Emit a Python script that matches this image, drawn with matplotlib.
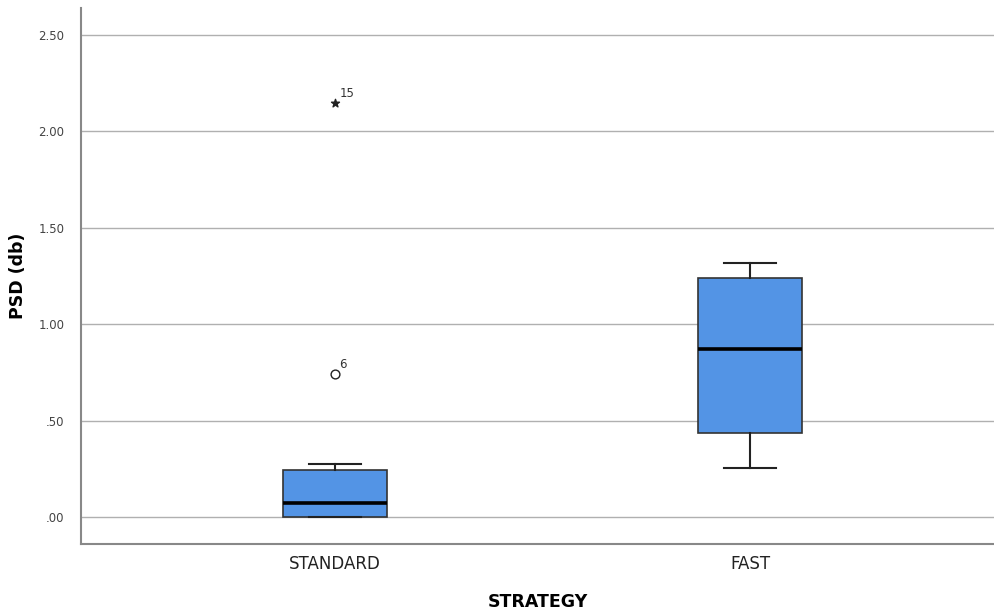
import matplotlib
matplotlib.use("Agg")
import matplotlib.pyplot as plt

# values
categories = ["STANDARD", "FAST"]
q1 = [0.000, 0.436]
med = [0.073, 0.871]
q3 = [0.244, 1.240]
whislo = [0.000, 0.254]
whishi = [0.275, 1.317]
# outliers: (group index, value, case label)
mild_grp, mild_val, mild_lab = [0], [0.742], ["6"]
ext_grp, ext_val, ext_lab = [0], [2.147], ["15"]
yticks = [0.0, 0.5, 1.0, 1.5, 2.0, 2.5]
ytick_labels = [".00", ".50", "1.00", "1.50", "2.00", "2.50"]

plt.rcParams["font.family"] = "DejaVu Sans"
fig = plt.figure(figsize=(9.95, 6.14), dpi=100)
ax = fig.add_axes([0.0814, 0.114, 0.9186, 0.873])

stats = [dict(label=c, q1=a, med=m, q3=b, whislo=lo, whishi=hi, fliers=[])
         for c, a, m, b, lo, hi in zip(categories, q1, med, q3, whislo, whishi)]
ax.bxp(stats, positions=range(len(categories)), widths=0.25, capwidths=0.125,
       patch_artist=True, showfliers=False,
       boxprops=dict(facecolor="#5394E5", edgecolor="#333333", lw=1.2),
       medianprops=dict(color="black", lw=2.6),
       whiskerprops=dict(color="#222222", lw=1.5),
       capprops=dict(color="#222222", lw=1.5), zorder=3)

ax.scatter(mild_grp, mild_val, s=40, facecolor="white", edgecolor="#222222", lw=1.0, zorder=4)
ax.scatter(ext_grp, ext_val, s=36, marker="*", color="#222222", zorder=4)
for g, v, l in zip(mild_grp + ext_grp, mild_val + ext_val, mild_lab + ext_lab):
    ax.annotate(l, (g, v), xytext=(3, 4), textcoords="offset points", fontsize=8.5, color="#333333")

ax.set_xlim(-0.612, 1.59)
ax.set_ylim(-0.14, 2.64)
ax.set_yticks(yticks)
ax.set_yticklabels(ytick_labels, fontsize=8.5, color="#444444")
ax.set_xticks(range(len(categories)))
ax.set_xticklabels(categories, fontsize=12, color="#222222")
ax.tick_params(length=0, pad=8)
ax.tick_params(axis="y", pad=12)
ax.yaxis.grid(True, color="#b0b0b0", lw=1.0)
ax.set_axisbelow(True)
for sp in ("top", "right"):
    ax.spines[sp].set_visible(False)
for sp in ("left", "bottom"):
    ax.spines[sp].set_color("#888888")
    ax.spines[sp].set_linewidth(1.5)
ax.set_ylabel("PSD (db)", fontsize=12.5, fontweight="bold", labelpad=8)
ax.set_xlabel("STRATEGY", fontsize=12.5, fontweight="bold", labelpad=14)

fig.savefig("out.png", dpi=100)
